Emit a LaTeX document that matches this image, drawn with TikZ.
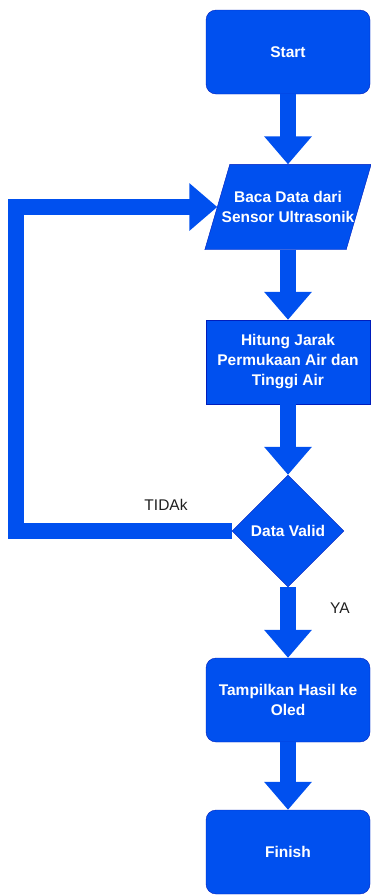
\documentclass[tikz,border=0pt]{standalone}
\usepackage{fontspec}
\setmainfont{Liberation Sans}
\usetikzlibrary{arrows.meta,shapes.geometric,backgrounds}
\definecolor{boxblue}{HTML}{0050EF}
\definecolor{boxline}{HTML}{001DBC}
\definecolor{labelgray}{HTML}{1F1F1F}

\begin{document}
\begin{tikzpicture}[x=1pt,y=-1pt,
    box/.style={draw=boxline,fill=boxblue,text=white,align=center,
      minimum width=164pt,minimum height=84pt,inner sep=2pt,
      font=\bfseries\fontsize{15.5}{20}\selectfont},
    term/.style={box,rounded corners=10pt},
    io/.style={box,draw=none,fill=none,minimum width=141pt,minimum height=85pt,inner sep=0pt},
    ioback/.style={draw=boxline,fill=boxblue},
    decide/.style={box,diamond,minimum width=112pt,minimum height=112pt,inner sep=0pt},
    fat/.style={boxblue,line width=16pt,line join=miter,
      -{Triangle[length=28pt,width=46pt]}},
    lbl/.style={text=labelgray,font=\fontsize{15.5}{20}\selectfont}]
  \useasboundingbox (0,0) rectangle (371,895);

  \node[term] (start) at (288,52) {Start};
  \node[io] (baca) at (288,207) {Baca Data dari\\Sensor Ultrasonik};
  \node[box] (hitung) at (288,362) {Hitung Jarak\\Permukaan Air dan\\Tinggi Air};
  \node[decide] (valid) at (288,531) {Data Valid};
  \node[term] (tampil) at (288,700) {Tampilkan Hasil ke\\Oled};
  \node[term] (finish) at (288,852) {Finish};

  % slanted input box behind the text
  \begin{scope}[on background layer]
    \draw[ioback] ([xshift=12.5pt]baca.north west) -- ([xshift=12.5pt]baca.north east)
      -- ([xshift=-12.5pt]baca.south east) -- ([xshift=-12.5pt]baca.south west) -- cycle;
  \end{scope}

  \coordinate (back) at (16,531);

  \draw[fat] (start) -- (baca);
  \draw[fat] (baca) -- (hitung);
  \draw[fat] (hitung) -- (valid);
  \draw[fat] (valid) -- (tampil);
  \draw[fat] (tampil) -- (finish);
  \draw[fat] (valid.west) -- (back) |- (baca.west);

  \node[lbl] (tidak) at (166,505) {TIDAk};
  \node[lbl] (ya) at (340,608) {YA};
\end{tikzpicture}
\end{document}
